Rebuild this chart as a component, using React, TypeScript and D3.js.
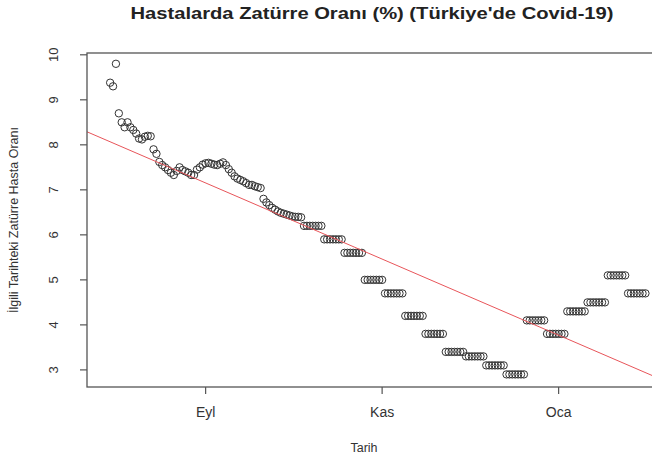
import React from 'react';
import * as d3 from 'd3';

// Daily values from 2020-07-30 to 2020-10-04
const dailyStart = '2020-07-30';
const dailyValues = [
  9.38, 9.3, 9.8, 8.7, 8.5, 8.39, 8.5, 8.39, 8.33, 8.25, 8.14, 8.12, 8.18, 8.2, 8.19,
  7.9, 7.8, 7.62, 7.55, 7.5, 7.44, 7.38, 7.33, 7.42, 7.5, 7.44, 7.41, 7.38, 7.33, 7.33,
  7.45, 7.5, 7.56, 7.59, 7.6, 7.58, 7.56, 7.55, 7.58, 7.61, 7.55, 7.46, 7.38, 7.3, 7.25,
  7.22, 7.19, 7.15, 7.11, 7.11, 7.08, 7.06, 7.04, 6.8, 6.72, 6.66, 6.6, 6.56, 6.52, 6.49,
  6.47, 6.45, 6.43, 6.41, 6.4, 6.4, 6.39,
];
// Weekly reported values (same value on each day of the week), from 2020-10-05
const weeklyStart = '2020-10-05';
const weeklyValues = [6.2, 5.9, 5.6, 5.0, 4.7, 4.2, 3.8, 3.4, 3.3, 3.1, 2.9, 4.1, 3.8, 4.3, 4.5, 5.1, 4.7];

const xTickDates = ['2020-09-01', '2020-11-01', '2021-01-01'];
const xTickLabels = ['Eyl', 'Kas', 'Oca'];
const yTicks = [3, 4, 5, 6, 7, 8, 9, 10];

const title = "Hastalarda Zatürre Oranı (%) (Türkiye'de Covid-19)";
const xTitle = 'Tarih';
const yTitle = 'İlgili Tarihteki Zatürre Hasta Oranı';

const DAY = 86400000;
const parse = (s: string) => new Date(s + 'T00:00:00Z');

type Pt = { date: Date; value: number };
const points: Pt[] = [];
dailyValues.forEach((v, i) => points.push({ date: new Date(parse(dailyStart).getTime() + i * DAY), value: v }));
weeklyValues.forEach((v, w) => {
  for (let k = 0; k < 7; k++) {
    points.push({ date: new Date(parse(weeklyStart).getTime() + (w * 7 + k) * DAY), value: v });
  }
});

const W = 652, H = 458;
const left = 87, right = 657, top = 53, bottom = 387;

export default function App() {
  const x = d3.scaleUtc().domain([parse('2020-07-22'), parse('2021-02-04')]).range([left, right]);
  const y = d3.scaleLinear().domain([2.62, 10.04]).range([bottom, top]);

  // least squares fit (abline(lm(value ~ date)))
  const xs = points.map(p => p.date.getTime() / DAY);
  const ys = points.map(p => p.value);
  const mx = d3.mean(xs)!, my = d3.mean(ys)!;
  let sxy = 0, sxx = 0;
  xs.forEach((xv, i) => { sxy += (xv - mx) * (ys[i] - my); sxx += (xv - mx) * (xv - mx); });
  const b = sxy / sxx, a = my - b * mx;
  const [d0, d1] = x.domain();
  const fit = (d: Date) => a + b * (d.getTime() / DAY);

  const axisColor = '#555';
  const textColor = '#333';

  return (
    <svg width={W} height={H} style={{ position: 'fixed', left: 0, top: 0, background: '#fff' }}
      fontFamily="'Liberation Sans', Arial, sans-serif">
      <defs>
        <clipPath id="plotclip"><rect x={left} y={top} width={right - left} height={bottom - top} /></clipPath>
      </defs>
      <rect x={0} y={0} width={W} height={H} fill="#fff" />
      <text x={372} y={18.5} textAnchor="middle" fontWeight="bold" fontSize={16} fill="#222"
        textLength={483} lengthAdjust="spacingAndGlyphs">{title}</text>

      {/* points */}
      <g fill="none" stroke="#333" strokeWidth={1}>
        {points.map((p, i) => (
          <circle key={i} cx={x(p.date)} cy={y(p.value)} r={3.7} />
        ))}
      </g>

      {/* regression line */}
      <g clipPath="url(#plotclip)">
        <line x1={x(d0)} y1={y(fit(d0))} x2={x(d1)} y2={y(fit(d1))} stroke="#e8555a" strokeWidth={1} />
      </g>

      {/* box */}
      <rect x={left} y={top} width={right - left} height={bottom - top} fill="none" stroke={axisColor} strokeWidth={1.3} />

      {/* y axis */}
      <g>
        {yTicks.map(t => (
          <g key={t}>
            <line x1={left - 7} x2={left} y1={y(t)} y2={y(t)} stroke={axisColor} strokeWidth={1.2} />
            <text transform={`translate(${left - 34},${y(t)}) rotate(-90)`} textAnchor="middle" dy="0.35em"
              fontSize={13} fill={textColor}>{t}</text>
          </g>
        ))}
        <text transform={`translate(14,${(top + bottom) / 2}) rotate(-90)`} textAnchor="middle" dy="0.35em"
          fontSize={12.5} fill={textColor}>{yTitle}</text>
      </g>

      {/* x axis */}
      <g>
        {xTickDates.map((d, i) => (
          <g key={d}>
            <line x1={x(parse(d))} x2={x(parse(d))} y1={bottom} y2={bottom + 7} stroke={axisColor} strokeWidth={1.2} />
            <text x={x(parse(d))} y={bottom + 30} textAnchor="middle" fontSize={14} fill={textColor}>{xTickLabels[i]}</text>
          </g>
        ))}
        <text x={364} y={452} textAnchor="middle" fontSize={12.5} fill={textColor}>{xTitle}</text>
      </g>
    </svg>
  );
}
